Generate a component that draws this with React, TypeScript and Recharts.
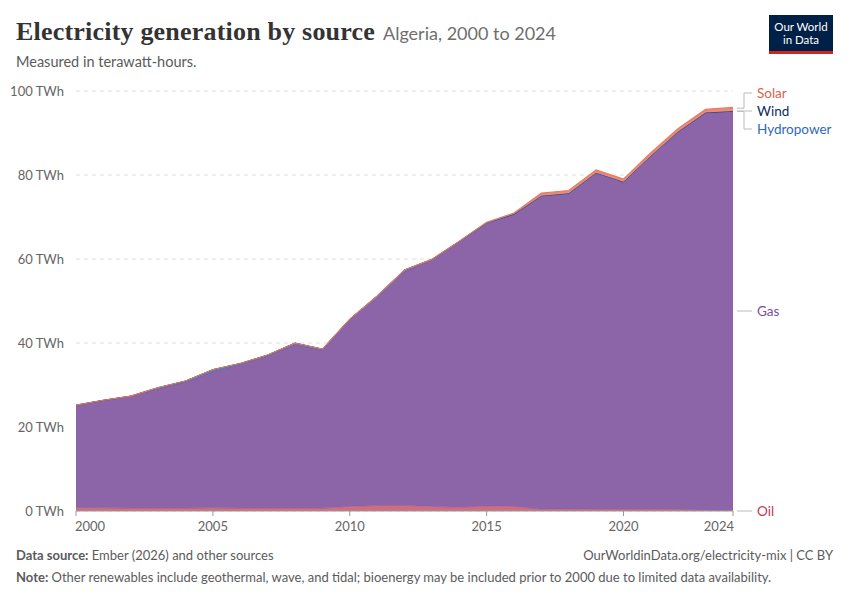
import React from "react";
import { Area, AreaChart, CartesianGrid, XAxis, YAxis } from "recharts";

// Algeria electricity generation by source, TWh
const years = [
  2000, 2001, 2002, 2003, 2004, 2005, 2006, 2007, 2008, 2009, 2010, 2011, 2012,
  2013, 2014, 2015, 2016, 2017, 2018, 2019, 2020, 2021, 2022, 2023, 2024,
];
const oil = [
  0.8, 0.8, 0.7, 0.7, 0.7, 0.8, 0.7, 0.7, 0.7, 0.7, 1.1, 1.3, 1.3, 1.1, 0.9,
  1.2, 1.1, 0.4, 0.5, 0.4, 0.4, 0.4, 0.4, 0.2, 0.15,
];
const gas = [
  24.35, 25.5, 26.6, 28.4, 30.0, 32.3, 34.2, 36.2, 39.0, 37.5, 44.4, 49.5,
  55.7, 58.7, 63.1, 67.3, 69.5, 74.6, 75.0, 80.0, 77.9, 84.1, 89.9, 94.6, 95.0,
];
const hydro = [
  0.05, 0.07, 0.06, 0.26, 0.25, 0.55, 0.22, 0.23, 0.28, 0.34, 0.17, 0.38, 0.38,
  0.1, 0.19, 0.14, 0.07, 0.06, 0.12, 0.15, 0.07, 0.1, 0.05, 0.05, 0.06,
];
const wind = [
  0, 0, 0, 0, 0, 0, 0, 0, 0, 0, 0.01, 0.01, 0.01, 0.01, 0.01, 0.02, 0.02,
  0.02, 0.02, 0.01, 0.01, 0.01, 0.01, 0.01, 0.01,
];
const solar = [
  0, 0, 0, 0, 0, 0, 0, 0, 0, 0, 0, 0, 0, 0, 0.03, 0.06, 0.25, 0.6, 0.66, 0.67,
  0.64, 0.68, 0.7, 0.76, 0.86,
];
const xTicks = [2000, 2005, 2010, 2015, 2020, 2024];
const yTicks = [0, 20, 40, 60, 80, 100];

const data = years.map((year, i) => ({
  year,
  oil: oil[i],
  gas: gas[i],
  hydro: hydro[i],
  wind: wind[i],
  solar: solar[i],
}));

const FONT = "Lato, 'Noto Sans', sans-serif";
const PLOT_TOP = 91;
const PLOT_BOTTOM = 511;
const PLOT_RIGHT = 733;
const yPx = (v: number) => PLOT_BOTTOM - (v / 100) * (PLOT_BOTTOM - PLOT_TOP);

const XTick = (props: any) => {
  const { x, y, payload } = props;
  const v = payload.value;
  const anchor = v === 2000 ? "start" : v === 2024 ? "end" : "middle";
  const dx = v === 2000 ? -1 : v === 2024 ? 1 : 0;
  return (
    <g>
      <line x1={x} x2={x} y1={PLOT_BOTTOM} y2={PLOT_BOTTOM + 5} stroke="#999" />
      <text x={x + dx} y={y + 12} textAnchor={anchor} fill="#666" fontSize={13} fontFamily={FONT}>
        {v}
      </text>
    </g>
  );
};

const YTick = (props: any) => {
  const { x, y, payload } = props;
  return (
    <text x={x} y={y + 4.5} textAnchor="end" fill="#666" fontSize={13} fontFamily={FONT}>
      {`${payload.value} TWh`}
    </text>
  );
};

const labels = [
  { name: "Solar", color: "#d7644f", y: 93, from: yPx(95.9) },
  { name: "Wind", color: "#0d2a63", y: 111, from: yPx(95.2) },
  { name: "Hydropower", color: "#2e69b6", y: 129, from: yPx(95.15) },
  { name: "Gas", color: "#7b4f9a", y: 311, from: yPx(0.15 + 95.0 / 2) },
  { name: "Oil", color: "#c4365a", y: 511, from: yPx(0.08) },
];

export default function App() {
  return (
    <div
      style={{
        position: "absolute",
        left: 0,
        top: 0,
        width: 850,
        height: 600,
        background: "#fff",
        fontFamily: FONT,
        overflow: "hidden",
      }}
    >
      <div style={{ position: "absolute", left: 16, top: 17, whiteSpace: "nowrap" }}>
        <span
          style={{
            fontFamily: "'Liberation Serif', 'DejaVu Serif', serif",
            fontWeight: 700,
            fontSize: 26,
            color: "#333",
            letterSpacing: 0.2,
          }}
        >
          Electricity generation by source
        </span>
        <span style={{ fontSize: 18, color: "#6e6e6e", marginLeft: 8 }}>Algeria, 2000 to 2024</span>
      </div>
      <div style={{ position: "absolute", left: 16, top: 53, fontSize: 14.5, color: "#5b5b5b" }}>
        Measured in terawatt-hours.
      </div>

      <div
        style={{
          position: "absolute",
          left: 769,
          top: 15,
          width: 64,
          height: 36,
          background: "#002147",
          borderBottom: "3px solid #ce261e",
          color: "#fff",
          fontSize: 11.5,
          lineHeight: "13px",
          textAlign: "center",
          display: "flex",
          flexDirection: "column",
          justifyContent: "center",
        }}
      >
        <div>Our World</div>
        <div>in Data</div>
      </div>

      <div style={{ position: "absolute", left: 0, top: 0 }}>
        <AreaChart
          width={850}
          height={600}
          data={data}
          margin={{ top: PLOT_TOP, right: 850 - PLOT_RIGHT, bottom: 600 - PLOT_BOTTOM - 30, left: 6 }}
        >
          <CartesianGrid vertical={false} stroke="#ddd" strokeDasharray="4 4" />
          <XAxis
            dataKey="year"
            type="number"
            domain={[2000, 2024]}
            ticks={xTicks}
            tick={<XTick />}
            tickLine={false}
            axisLine={{ stroke: "#999" }}
            height={30}
            interval={0}
          />
          <YAxis
            type="number"
            domain={[0, 100]}
            ticks={yTicks}
            width={70}
            axisLine={false}
            tickLine={false}
            tick={<YTick />}
            tickMargin={6}
            interval={0}
          />
          <Area type="linear" dataKey="oil" stackId="1" fill="#cf6e80" stroke="#c4506a" strokeWidth={0.8} fillOpacity={1} isAnimationActive={false} />
          <Area type="linear" dataKey="gas" stackId="1" fill="#8b65a7" stroke="#6f4a92" strokeWidth={0.8} fillOpacity={1} isAnimationActive={false} />
          <Area type="linear" dataKey="hydro" stackId="1" fill="#4f7fc0" stroke="#3a6fb5" strokeWidth={1} fillOpacity={1} isAnimationActive={false} />
          <Area type="linear" dataKey="wind" stackId="1" fill="#2a4a80" stroke="#1f3d73" strokeWidth={0.8} fillOpacity={1} isAnimationActive={false} />
          <Area type="linear" dataKey="solar" stackId="1" fill="#ea8a77" stroke="#e47a66" strokeWidth={1.2} fillOpacity={1} isAnimationActive={false} />
        </AreaChart>
      </div>

      <svg style={{ position: "absolute", left: 0, top: 0 }} width={850} height={600}>
        {labels.map((l) => {
          const straight = Math.abs(l.from - l.y) < 1.5;
          const d = straight
            ? `M737,${l.y} H752`
            : `M737,${l.from} H744 V${l.y} H752`;
          return <path key={l.name} d={d} fill="none" stroke="#bbb" strokeWidth={1} />;
        })}
      </svg>

      {labels.map((l) => (
        <div
          key={l.name}
          style={{
            position: "absolute",
            left: 757,
            top: l.y - 9,
            fontSize: 13.5,
            lineHeight: "18px",
            color: l.color,
            whiteSpace: "nowrap",
          }}
        >
          {l.name}
        </div>
      ))}

      <div style={{ position: "absolute", left: 16, top: 547, fontSize: 13, color: "#5b5b5b", whiteSpace: "nowrap" }}>
        <b style={{ fontWeight: 700 }}>Data source:</b> Ember (2026) and other sources
      </div>
      <div style={{ position: "absolute", right: 17, top: 547, fontSize: 13, color: "#5b5b5b", whiteSpace: "nowrap" }}>
        OurWorldinData.org/electricity-mix | CC BY
      </div>
      <div style={{ position: "absolute", left: 16, top: 569, fontSize: 13, color: "#5b5b5b", whiteSpace: "nowrap" }}>
        <b style={{ fontWeight: 700 }}>Note:</b> Other renewables include geothermal, wave, and tidal; bioenergy may be included prior to 2000 due to limited data availability.
      </div>
    </div>
  );
}
